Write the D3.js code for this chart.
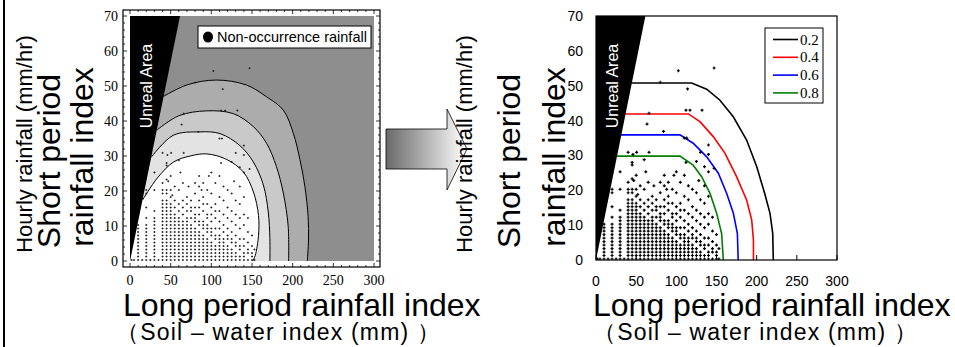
<!DOCTYPE html>
<html>
<head>
<meta charset="utf-8">
<script src="https://cdn.jsdelivr.net/npm/d3@7/dist/d3.min.js"></script>
<style>
  body { margin: 0; background: #fff; }
  svg { display: block; font-family: "Liberation Sans", Arial, sans-serif; }
</style>
</head>
<body>
<svg id="chart" width="955" height="347"></svg>
<script>
// ---- data ----
const xTicks = [0, 50, 100, 150, 200, 250, 300];
const yTicks = [0, 10, 20, 30, 40, 50, 60, 70];
const unrealArea = [[0, 0], [0, 70], [61.5, 70]];

// left panel: probability contours (filled)
const leftContour02 = [[41, 47], [70, 50.3], [106, 51.7], [143, 50.3], [168, 46.9], [188.5, 43.1], [200.8, 36.5], [209, 28.9], [215, 21.3], [219, 12.7], [219.5, 6], [218, 0]];
const leftContour04 = [[33, 37.4], [60, 41.5], [94, 42.9], [127, 42.1], [151.6, 38.4], [168, 33.6], [180, 27], [188.5, 19.4], [194.5, 9.9], [195, 0]];
const leftContour06 = [[26, 29.6], [53, 35.9], [86, 36.9], [110.7, 36.4], [135, 33], [151.6, 28.3], [164, 21.7], [170, 14], [172, 6.4], [172, 0]];
const leftContour08 = [[15.4, 17.4], [33.6, 23.7], [53.7, 28.3], [74, 30], [94.4, 30.6], [119, 29], [139.5, 25.4], [151.8, 19.7], [158, 13], [158, 7.3], [154, 1.6], [151, 0]];

// right panel: the same levels as lines
const levelNames = ["0.2", "0.4", "0.6", "0.8"];
const rightContour02 = [[0, 50.8], [119, 50.8], [137.8, 49], [154, 45.9], [170.9, 41.1], [187.5, 34.4], [200, 26.8], [210, 19.1], [216.6, 13.4], [220, 7.6], [220.7, 0]];
const rightContour04 = [[0, 41.9], [115, 41.9], [129.4, 39.7], [146, 35.4], [160.6, 30.6], [175, 23.9], [187.5, 17.2], [193.8, 11.5], [196, 5.7], [196, 0]];
const rightContour06 = [[0, 35.9], [104.5, 35.9], [121, 33.5], [137.8, 29.6], [152.3, 24.9], [162.7, 19.1], [171, 13.4], [176, 7.6], [177, 0]];
const rightContour08 = [[0, 29.8], [104.5, 29.8], [121, 27.2], [131.5, 23.9], [141.9, 19.1], [150.2, 13.4], [156.4, 7.6], [158.5, 0]];

// non-occurrence rainfall, dense part as columns: [soil-water index, hourly rainfall values]
const rainColumns = [
  [2, [0]], [5, [0]],
  [10, [0, 1, 2, 3, 4, 5, 6, 7, 8, 9, 10]],
  [15, [0]],
  [20, [0, 1, 2, 3, 4, 5, 6, 7, 8, 9, 10, 12, 15, 19, 20]],
  [25, [0]],
  [30, [0, 1, 2, 3, 4, 5, 6, 7, 8, 9, 10, 11, 12, 14, 20, 25]],
  [35, [0]],
  [40, [0, 1, 2, 3, 4, 5, 6, 7, 8, 9, 10, 11, 12, 13, 14, 15, 16, 17, 19, 20, 22]],
  [45, [0, 1, 2, 3, 4, 5, 6, 7, 8, 9, 10, 11, 12, 13, 14, 15, 16, 17, 19, 20, 23, 27]],
  [50, [0, 1, 2, 3, 4, 5, 6, 7, 8, 9, 10, 11, 12, 13, 14, 15, 16, 18, 20, 24]],
  [55, [0, 1, 2, 3, 4, 5, 6, 7, 8, 9, 10, 11, 12, 13, 15, 17, 21]],
  [60, [0, 1, 2, 3, 4, 5, 6, 7, 8, 9, 10, 11, 12, 14, 16, 20]],
  [65, [0, 1, 2, 3, 4, 5, 6, 7, 8, 9, 10, 11, 13, 15, 17, 22]],
  [70, [0, 1, 2, 3, 4, 5, 6, 7, 8, 9, 10, 11, 12, 14, 16, 18]],
  [75, [0, 1, 2, 3, 4, 5, 6, 7, 8, 9, 10, 12, 14, 15, 17]],
  [80, [0, 1, 2, 3, 4, 5, 6, 7, 8, 9, 11, 12, 13, 15, 19, 22]],
  [85, [0, 1, 2, 3, 4, 5, 6, 7, 8, 10, 11, 13, 15, 17, 21, 24]],
  [90, [0, 1, 2, 3, 4, 5, 6, 7, 9, 10, 11, 14, 16, 18, 22]],
  [95, [0, 1, 2, 3, 4, 5, 6, 8, 9, 10, 12, 13, 16, 20]],
  [100, [0, 1, 2, 3, 4, 5, 7, 8, 9, 11, 13, 15, 19, 25]],
  [105, [0, 1, 2, 3, 4, 6, 7, 9, 12, 14, 16, 22]],
  [110, [0, 1, 2, 3, 4, 5, 6, 7, 9, 11, 14, 18, 24]],
  [115, [0, 1, 2, 3, 4, 5, 6, 8, 10, 13, 17, 21]],
  [120, [0, 1, 2, 3, 4, 6, 7, 9, 12, 15, 20]],
  [125, [0, 1, 2, 3, 5, 6, 8, 11, 14, 19]],
  [130, [0, 1, 2, 4, 5, 7, 10, 13, 17]],
  [135, [0, 1, 3, 4, 6, 9, 12, 16, 21]],
  [140, [0, 1, 2, 4, 6, 10, 13, 18, 25]],
  [145, [0, 2, 3, 5, 8, 12]],
  [150, [0, 1, 2, 4, 7]],
  [153, [0, 3]]
];
// scattered upper points
const rainScatter = [[102.5, 54], [147, 54.8], [80, 50.7], [114, 48.8], [112, 42.7], [117, 42.7], [132, 42.7],
  [66, 41.8], [63.5, 38.7], [84, 36.6], [110, 34.7], [113, 34.7], [140, 32.7], [130, 30.6], [140, 30],
  [40, 30.6], [46, 30], [50.6, 30.6], [66, 30.6], [45, 27.7], [60, 28.5], [112, 27.7], [125, 28], [135, 26.5],
  [47, 22.5], [52, 18.5], [62, 25], [72, 21], [88, 20], [97, 24], [128, 22.5], [147, 26]];

const rainPoints = rainColumns.flatMap(([x, ys]) => ys.map(y => [x, y])).concat(rainScatter);

// ---- drawing ----
const svg = d3.select("#chart");
const serif = '"Liberation Serif", "Times New Roman", serif';

// page border on the left
svg.append("line").attr("x1", 4).attr("x2", 4).attr("y1", 0).attr("y2", 347)
  .attr("stroke", "#000").attr("stroke-width", 2);

function triangle(g, x, y) {
  g.append("path")
    .attr("d", d3.line().x(d => x(d[0])).y(d => y(d[1]))(unrealArea) + "Z")
    .attr("fill", "#000");
  g.append("text")
    .attr("transform", `translate(${x(0) + 22},86) rotate(-90)`)
    .attr("text-anchor", "middle")
    .attr("fill", "#fff")
    .attr("font-size", 16)
    .text("Unreal Area");
}

function axisTitles(g, tx, sx, yLabelX) {
  g.append("text").attr("transform", `translate(${yLabelX[0]},144) rotate(-90)`)
    .attr("text-anchor", "middle").attr("font-size", 22).text("Hourly rainfall (mm/hr)");
  g.append("text").attr("transform", `translate(${yLabelX[1]},161) rotate(-90)`)
    .attr("text-anchor", "middle").attr("font-size", 32).text("Short period");
  g.append("text").attr("transform", `translate(${yLabelX[2]},157) rotate(-90)`)
    .attr("text-anchor", "middle").attr("font-size", 32).text("rainfall index");
  g.append("text").attr("x", tx).attr("y", 316).attr("font-size", 32).text("Long period rainfall index");
  g.append("text").attr("x", sx).attr("y", 340).attr("font-size", 23).attr("letter-spacing", 1.2)
    .text("（Soil – water index (mm) ）");
}

// ---------- left panel ----------
{
  const x = d3.scaleLinear().domain([0, 300]).range([130, 374]);
  const y = d3.scaleLinear().domain([0, 70]).range([261, 16]);
  const g = svg.append("g");

  g.append("clipPath").attr("id", "clipL").append("rect")
    .attr("x", 130).attr("y", 16).attr("width", 244).attr("height", 245);
  const area = g.append("g").attr("clip-path", "url(#clipL)");

  area.append("rect").attr("x", 130).attr("y", 16).attr("width", 244).attr("height", 245).attr("fill", "#8e8e8e");
  const curve = d3.line().x(d => x(d[0])).y(d => y(d[1])).curve(d3.curveCatmullRom);
  const fills = ["#acacac", "#c9c9c9", "#e3e3e3", "#ffffff"];
  [leftContour02, leftContour04, leftContour06, leftContour08].forEach((c, i) => {
    area.append("path").attr("d", curve(c) + `L${x(0)},${y(0)}Z`).attr("fill", fills[i]);
  });
  [leftContour02, leftContour04, leftContour06, leftContour08].forEach(c => {
    area.append("path").attr("d", curve(c)).attr("fill", "none").attr("stroke", "#000").attr("stroke-width", 1);
  });

  area.selectAll(".dotL").data(rainPoints).enter().append("path")
    .attr("class", "dotL")
    .attr("transform", d => `translate(${x(d[0])},${y(d[1]) - 1})`)
    .attr("d", "M-1,0H1M0,-1V1")
    .attr("stroke", "#222").attr("stroke-width", 0.9);

  triangle(area, x, y);

  // mathematica-style frame
  g.append("rect").attr("x", 123).attr("y", 10).attr("width", 257).attr("height", 257)
    .attr("fill", "none").attr("stroke", "#000").attr("stroke-width", 1.2);
  d3.range(0, 71, 2).forEach(v => {
    const len = v % 10 === 0 ? 4 : 2;
    g.append("path").attr("d", `M123,${y(v)}h${len}M380,${y(v)}h${-len}`).attr("stroke", "#000").attr("stroke-width", 0.8);
  });
  d3.range(0, 301, 10).forEach(v => {
    const len = v % 50 === 0 ? 4 : 2;
    g.append("path").attr("d", `M${x(v)},267v${-len}M${x(v)},10v${len}`).attr("stroke", "#000").attr("stroke-width", 0.8);
  });
  g.selectAll(".ytl").data(yTicks).enter().append("text")
    .attr("x", 118).attr("y", d => y(d) + 5).attr("text-anchor", "end")
    .attr("font-family", serif).attr("font-size", 14).text(d => d);
  g.selectAll(".xtl").data(xTicks).enter().append("text")
    .attr("x", d => x(d)).attr("y", 285).attr("text-anchor", "middle")
    .attr("font-family", serif).attr("font-size", 14).text(d => d);

  // legend
  g.append("rect").attr("x", 198).attr("y", 26).attr("width", 173).attr("height", 22)
    .attr("fill", "#fff").attr("stroke", "#000").attr("stroke-width", 1);
  g.append("ellipse").attr("cx", 208).attr("cy", 37).attr("rx", 5).attr("ry", 5.5).attr("fill", "#000");
  g.append("text").attr("x", 217).attr("y", 42).attr("font-size", 14.5).text("Non-occurrence rainfall");

  axisTitles(g, 123, 116, [32, 60, 93]);
}

// ---------- arrow ----------
{
  const grad = svg.append("defs").append("linearGradient").attr("id", "arrowGrad")
    .attr("x1", "0%").attr("x2", "100%");
  grad.append("stop").attr("offset", "0%").attr("stop-color", "#6a6a6a");
  grad.append("stop").attr("offset", "100%").attr("stop-color", "#ffffff");
  svg.append("path")
    .attr("d", "M386,129H447V109L467,149L447,190V169H386Z")
    .attr("fill", "url(#arrowGrad)").attr("stroke", "#000").attr("stroke-width", 0.8);
}

// ---------- right panel ----------
{
  const x = d3.scaleLinear().domain([0, 300]).range([596, 837]);
  const y = d3.scaleLinear().domain([0, 70]).range([260, 16]);
  const g = svg.append("g");

  g.append("clipPath").attr("id", "clipR").append("rect")
    .attr("x", 596).attr("y", 16).attr("width", 241).attr("height", 244);
  const area = g.append("g").attr("clip-path", "url(#clipR)");

  const colors = ["#000000", "#ff0000", "#0000ff", "#008000"];
  const line = d3.line().x(d => x(d[0])).y(d => y(d[1]));
  [rightContour02, rightContour04, rightContour06, rightContour08].forEach((c, i) => {
    area.append("path").attr("d", line(c)).attr("fill", "none")
      .attr("stroke", colors[i]).attr("stroke-width", 1.6);
  });

  area.selectAll(".dotR").data(rainPoints).enter().append("path")
    .attr("class", "dotR")
    .attr("transform", d => `translate(${x(d[0])},${y(d[1]) - 1})`)
    .attr("d", "M-1.5,0H1.5M0,-1.5V1.5")
    .attr("stroke", "#000").attr("stroke-width", 1.2);

  triangle(area, x, y);

  g.append("rect").attr("x", 596).attr("y", 16).attr("width", 241).attr("height", 244)
    .attr("fill", "none").attr("stroke", "#000").attr("stroke-width", 1.2);
  g.selectAll(".xtk").data(xTicks).enter().append("line")
    .attr("x1", d => x(d)).attr("x2", d => x(d)).attr("y1", 260).attr("y2", 255)
    .attr("stroke", "#000").attr("stroke-width", 1);

  g.selectAll(".ytl").data(yTicks).enter().append("text")
    .attr("x", 583).attr("y", d => y(d) + 5).attr("text-anchor", "end")
    .attr("font-size", 14).text(d => d);
  g.selectAll(".xtl").data(xTicks).enter().append("text")
    .attr("x", d => x(d)).attr("y", 286).attr("text-anchor", "middle")
    .attr("font-size", 14).text(d => d);

  // legend
  g.append("rect").attr("x", 765).attr("y", 28).attr("width", 58).attr("height", 75)
    .attr("fill", "#fff").attr("stroke", "#000").attr("stroke-width", 1);
  levelNames.forEach((name, i) => {
    const ly = 39.5 + i * 17.8;
    g.append("line").attr("x1", 773).attr("x2", 798).attr("y1", ly).attr("y2", ly)
      .attr("stroke", colors[i]).attr("stroke-width", 1.6);
    g.append("text").attr("x", 800).attr("y", ly + 5).attr("font-family", serif)
      .attr("font-size", 15).text(name);
  });

  axisTitles(g, 593, 593, [472, 520, 565]);
}
</script>
</body>
</html>
